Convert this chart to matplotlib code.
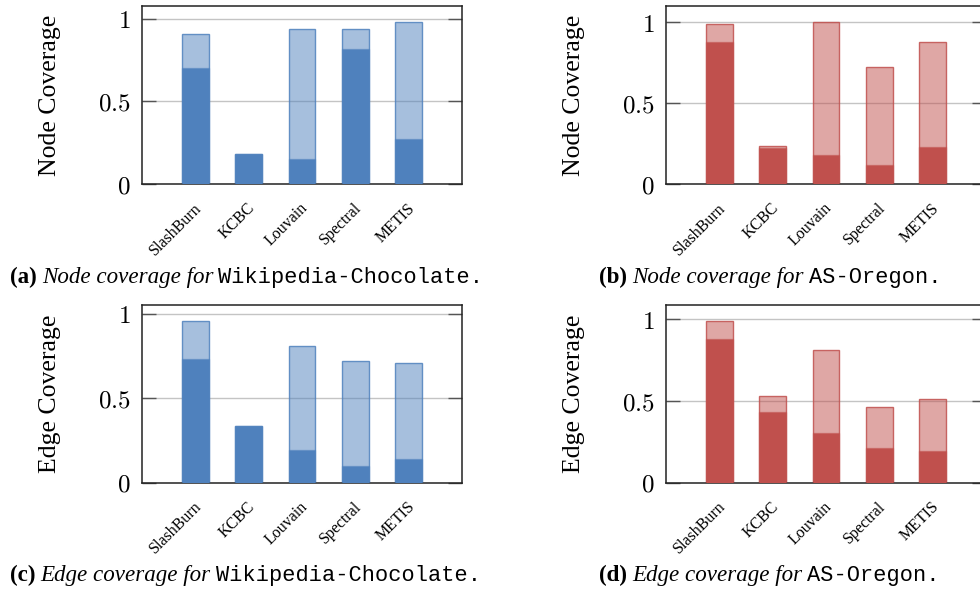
import matplotlib
matplotlib.use("Agg")
import matplotlib.pyplot as plt
from matplotlib.colors import to_rgba
from matplotlib.transforms import ScaledTranslation

plt.rcParams["mathtext.fontset"] = "cm"

methods = ["SlashBurn", "KCBC", "Louvain", "Spectral", "METIS"]

# (a) node coverage, Wikipedia-Chocolate
wiki_node_inner = [0.70, 0.18, 0.15, 0.82, 0.27]
wiki_node_total = [0.91, 0.18, 0.94, 0.94, 0.98]
# (b) node coverage, AS-Oregon
oregon_node_inner = [0.88, 0.225, 0.18, 0.12, 0.23]
oregon_node_total = [0.99, 0.232, 1.00, 0.72, 0.88]
# (c) edge coverage, Wikipedia-Chocolate
wiki_edge_inner = [0.73, 0.334, 0.19, 0.10, 0.14]
wiki_edge_total = [0.96, 0.334, 0.81, 0.72, 0.71]
# (d) edge coverage, AS-Oregon
oregon_edge_inner = [0.88, 0.43, 0.30, 0.21, 0.19]
oregon_edge_total = [0.99, 0.53, 0.81, 0.46, 0.51]

blue = "#4f81bd"
red = "#c0504d"

W, H = 980, 590
fig = plt.figure(figsize=(W / 100, H / 100), dpi=100)


def px_axes(left, top, width, height):
    return fig.add_axes([left / W, 1 - (top + height) / H, width / W, height / H])


def panel(ax, inner, total, color, ylabel):
    x = list(range(len(methods)))
    ax.bar(x, total, width=0.5, facecolor=to_rgba(color, 0.5),
           edgecolor=to_rgba(color, 0.85), linewidth=1.0, zorder=2)
    ax.bar(x, inner, width=0.5, facecolor=color,
           edgecolor=to_rgba(color, 0.45), linewidth=1.0, zorder=3)
    ax.set_xlim(-1, len(methods))
    ax.set_ylim(0, 1.1 * max(total))
    ax.set_yticks([0, 0.5, 1])
    ax.set_yticklabels([r"$0$", r"$0.5$", r"$1$"], fontsize=18)
    for yv in [0.5, 1]:
        ax.axhline(yv, color="#c4c4c4", lw=1.0, zorder=1)
    ax.tick_params(axis="y", direction="in", length=10, width=1.0,
                   color="#555555", left=True, right=True, pad=8)
    ax.tick_params(axis="x", length=0, pad=3)
    ax.set_xticks(x)
    ax.set_xticklabels(methods, rotation=45, ha="right", va="top",
                       rotation_mode="anchor", fontsize=11.5,
                       family="Liberation Serif")
    off = ScaledTranslation(-0.02, -0.12, fig.dpi_scale_trans)
    for lab in ax.get_xticklabels():
        lab.set_transform(lab.get_transform() + off)
    for s in ax.spines.values():
        s.set_linewidth(1.1)
        s.set_color("#222222")
    ax.set_ylabel(ylabel, fontsize=18.5, family="Liberation Serif")
    ax.yaxis.set_label_coords(-0.253, 0.5)


ax_a = px_axes(142, 6, 320, 178)
ax_b = px_axes(666, 6, 320, 178)
ax_c = px_axes(142, 304.5, 320, 178)
ax_d = px_axes(666, 304.5, 320, 178)

panel(ax_a, wiki_node_inner, wiki_node_total, blue, "Node Coverage")
panel(ax_b, oregon_node_inner, oregon_node_total, red, "Node Coverage")
panel(ax_c, wiki_edge_inner, wiki_edge_total, blue, "Edge Coverage")
panel(ax_d, oregon_edge_inner, oregon_edge_total, red, "Edge Coverage")

fig.canvas.draw()
renderer = fig.canvas.get_renderer()


def caption(x0, yc, parts):
    x = x0
    for txt, kw, gap in parts:
        t = fig.text(x / W, 1 - yc / H, txt, va="center", ha="left", **kw)
        bb = t.get_window_extent(renderer=renderer)
        x = bb.x1 + gap


serif_b = dict(family="Liberation Serif", weight="bold", fontsize=16.6)
serif_i = dict(family="Liberation Serif", style="italic", fontsize=16.6)
mono = dict(family="Liberation Mono", fontsize=15.8)

caption(10, 277, [("(a)", serif_b, 5), ("Node coverage for", serif_i, 5),
                  ("Wikipedia-Chocolate.", mono, 0)])
caption(599, 277, [("(b)", serif_b, 5), ("Node coverage for", serif_i, 5),
                   ("AS-Oregon.", mono, 0)])
caption(10, 575, [("(c)", serif_b, 5), ("Edge coverage for", serif_i, 5),
                  ("Wikipedia-Chocolate.", mono, 0)])
caption(599, 575, [("(d)", serif_b, 5), ("Edge coverage for", serif_i, 5),
                   ("AS-Oregon.", mono, 0)])

fig.savefig("out.png", dpi=100)
